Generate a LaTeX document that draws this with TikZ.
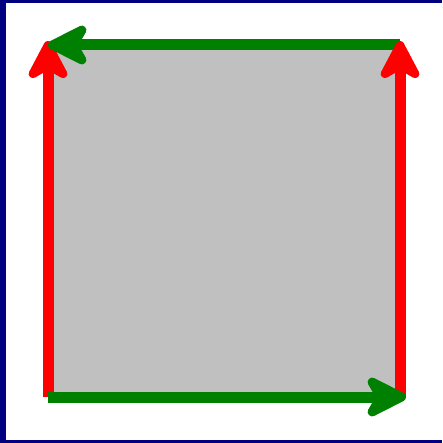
\documentclass[tikz,border=0pt]{standalone}
\usepackage{tikz}
\usetikzlibrary{arrows.meta}
\definecolor{frm}{RGB}{0,0,128}
\definecolor{sq}{RGB}{192,192,192}
\definecolor{up}{RGB}{255,0,0}
\definecolor{side}{RGB}{0,128,0}
\tikzset{
  edgeup/.style={-{Stealth[length=48pt 0,width=50pt 0,inset=14pt 0,round]},line width=11pt,draw=up},
  edgeside/.style={-{Stealth[length=50pt 0,width=50pt 0,inset=14pt 0,round]},line width=11pt,draw=side},
}
\begin{document}
\begin{tikzpicture}[x=1pt,y=-1pt]
\useasboundingbox (0,0) rectangle (442,443);
% frame
\fill[frm] (0,0) rectangle (442,443);
\fill[white] (6,3) rectangle (450,440);
% corners of the square
\coordinate (bl) at (48,397);
\coordinate (br) at (406,397);
\coordinate (tr) at (400,41);
\coordinate (tl) at (48,41);
\coordinate (trg) at (400,45);
\coordinate (tlg) at (48,45);
\fill[sq] (48,46) rectangle (400,397);
% edges
\draw[edgeup]   (bl) -- (tl);
\draw[edgeside] (trg) -- (tlg);
\draw[edgeup]   (400,397) -- (tr);
\draw[edgeside] (bl) -- (br);
\end{tikzpicture}
\end{document}
